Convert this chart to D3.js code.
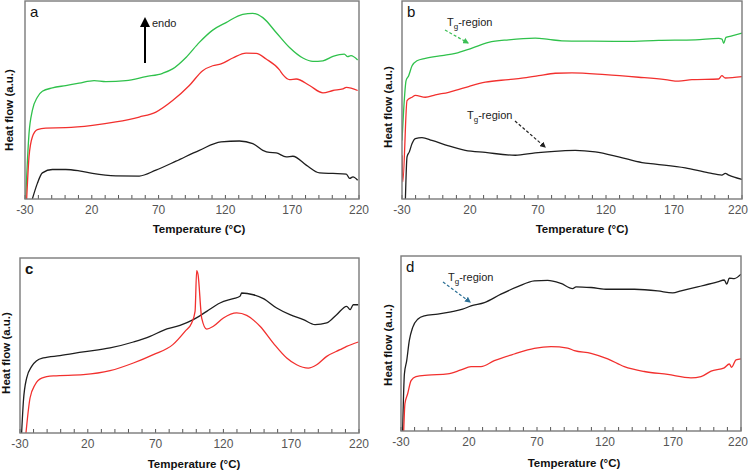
<!DOCTYPE html>
<html>
<head>
<meta charset="utf-8">
<script src="https://cdn.jsdelivr.net/npm/d3@7"></script>
<style>
  body { margin: 0; background: #fff; }
  svg text { font-family: "Liberation Sans", Arial, sans-serif; }
  .tick-label { font-size: 12px; fill: #555; }
  .axis-title { font-size: 11.5px; font-weight: bold; fill: #111; }
  .panel-letter { font-size: 15px; fill: #111; }
  .note { font-size: 11px; fill: #222; }
  .frame { fill: none; stroke: #7a7a7a; stroke-width: 1.4; }
  .curve { fill: none; stroke-width: 1.3; stroke-linejoin: round; }
</style>
</head>
<body>
<svg id="chart" width="750" height="471"></svg>
<script>
// x ticks (temperature, °C)
const majorTicks = [-30, 20, 70, 120, 170, 220];
const minorTicks = d3.range(-30, 221, 10);

// panel a: [T, heat flow a.u.]
const aGreen = [[-29.5,0],[-27,33],[-24.5,44.7],[-20.75,51.4],[-17,54.4],[-9.5,56.1],[0.5,57.3],[10.5,58.5],[21.75,59.8],[30.5,59.3],[45.5,59.8],[60.5,61.8],[73,63.5],[80.5,65.7],[90.5,71.5],[100.5,79.1],[110.5,85.3],[120.5,89.1],[133,93.3],[140.5,93.8],[148,91.6],[158,84.1],[168,76.5],[178,71.2],[185.5,69.5],[193,69.8],[200.5,72],[209,73.2],[211.5,71.9],[214,72.4],[219,70.2]];
const aRed = [[-28.75,0],[-27,21.3],[-24.5,31.3],[-20.75,35],[-14.5,35.8],[0.5,36],[20.5,37.2],[38,38.9],[55.5,41.4],[68,43.9],[80.5,49.7],[93,57.3],[103,64.8],[110.5,67.3],[116.75,68.2],[125.5,71.2],[135.5,73.7],[143,73.5],[150.5,70.7],[160.5,65.2],[163,62.8],[168,60.3],[173,60.6],[183,57.3],[193,53.6],[200.5,54.8],[208,55.6],[210.5,56.4],[219,54.8]];
const aBlack = [[-24.5,0],[-20.75,7.9],[-17,13.2],[-9.5,14.9],[0.5,14.9],[10.5,14.2],[20.5,12.9],[38,11.7],[55.5,11.6],[68,14.6],[83,19.1],[100.5,24.6],[116.75,28.8],[130.5,29.3],[140.5,28],[148,24.6],[153,23.5],[158,23.3],[165.5,21.3],[170.5,21.6],[180.5,17.1],[190.5,13.2],[200.5,12.9],[210.5,12.6],[213,10.4],[215.5,11.2],[219,9.5]];

// panel b
const bGreen = [[-30,29.6],[-28.8,44.7],[-27,59.8],[-25.1,62.3],[-22.6,67.3],[-19,69.8],[-12.8,71],[-0.6,72.4],[9.2,73.5],[21.5,76.2],[33.7,79.1],[48.4,80.4],[68,81.2],[77.8,80.6],[87.6,79.9],[109.7,79.7],[134.2,79.6],[158.7,80.1],[185.7,80.4],[202.8,81.1],[205.3,80.8],[206.5,78.6],[208.2,81.6],[212.6,82.4],[220,83.8]];
const bRed = [[-30,22.1],[-29.4,8.7],[-26.3,49.7],[-22.6,51.4],[-20.2,52.3],[-12.8,51.4],[-5.5,52.6],[4.3,53.9],[9.2,54.8],[19,56.8],[31.3,59],[48.4,60.3],[58.2,61],[70.5,62.3],[82.7,63.5],[95,63.7],[119.5,62.8],[144,61.5],[163.6,60.3],[173.4,59.5],[183.2,60.3],[202.8,60.6],[205.2,62.3],[207.7,61.1],[220,61.8]];
const bBlack = [[-27.5,0],[-26.3,21.3],[-24.6,23.8],[-22.6,28],[-20.2,30.5],[-15.3,31],[-8,29.6],[4.3,26.8],[16.5,24.6],[31.3,23.5],[53.3,22.1],[67.9,23.3],[87.6,24.3],[97.4,24.6],[112.1,23.8],[129.3,21.3],[146.5,18.4],[156.3,17.6],[178.3,15.7],[195.5,13.2],[205.2,12.1],[207.7,12.9],[210.2,12.1],[220,9.9]];

// panel c
const cBlack = [[-28.8,0],[-27.5,18.1],[-25.1,31.4],[-21.4,38.1],[-17.7,41.3],[-12.8,42.9],[-0.5,44.2],[16.7,46.3],[36.4,48.6],[53.6,52],[65.9,55.2],[75.7,58.7],[88,61.5],[97.8,64.8],[107.7,69.5],[117.5,74.3],[127.3,76.8],[132.2,78.1],[133.5,80],[142.1,79],[149.5,76.8],[159.3,71.4],[169.1,67.6],[179,64.8],[187.6,61.9],[196.2,62.9],[203.5,67.6],[210.9,72.4],[213.4,70.5],[215.8,73.3],[219.5,73.3]];
const cRed = [[-25.6,0],[-22.6,20],[-18.9,27.6],[-14,31.4],[-5.4,32.6],[16.7,33.3],[36.4,35.6],[53.6,40],[68.3,44.8],[82.7,50.5],[91.7,58.1],[96.6,62.9],[99.1,69.5],[100.3,92.8],[101.3,90.5],[104,65.7],[107.7,59.4],[112.6,61],[120,65.7],[129.8,68.6],[137.2,67.2],[147,61],[156.8,51.4],[166.7,42.9],[174,39],[182.6,37.1],[188.8,39],[196.2,43.8],[206,47.6],[210.9,49.5],[219.5,52]];

// panel d
const dBlack = [[-28.8,0],[-27.5,32.6],[-25.8,40.2],[-23.9,51.6],[-21.4,59.2],[-17.7,63.9],[-12.8,65.8],[-3,66.8],[6.8,68.1],[15.3,69.6],[21.5,71.5],[31.3,73.4],[43.5,78.2],[55.8,82.5],[68,85.8],[77.8,86.1],[87.6,84.3],[96.2,81.4],[98.7,82.4],[109.7,82],[122,81],[141.6,81],[158.7,80.1],[169.8,78.9],[175.9,80.1],[188.1,82.4],[202.8,85.2],[207.7,86.3],[209.5,83.9],[211.4,87.3],[215.1,87.1],[220,89.6]];
const dRed = [[-28,0],[-27.1,15.6],[-25.1,21.3],[-22.6,28.8],[-19,31.1],[-10.4,31.9],[4.3,32.6],[14.1,34.9],[21.5,36.8],[28.8,36.8],[38.6,40.2],[53.3,44],[68,47.2],[80.3,48.2],[92.5,47.4],[97.5,45.9],[109.7,44.4],[122,41.2],[134.2,36.8],[148.9,34],[166.1,32.3],[183.2,30.4],[190.6,31.1],[198,34.2],[207.7,36.1],[211.4,38.3],[213.1,36.4],[216.3,40.6],[220,41.2]];

const GREEN = '#2fc14b', RED = '#f2302e', BLACK = '#1e1e1e';

const panels = [
  { id: 'a', letter: 'a', box: [25, 1, 359, 199], ylab: [9, 110], xlab: [199, 233],
    series: [[aGreen, GREEN], [aRed, RED], [aBlack, BLACK]] },
  { id: 'b', letter: 'b', box: [402, 1, 742, 199], ylab: [388, 107], xlab: [582, 233],
    series: [[bGreen, GREEN], [bRed, RED], [bBlack, BLACK]] },
  { id: 'c', letter: 'c', bold: true, box: [20, 258, 359, 433], ylab: [6, 353], xlab: [194, 468],
    series: [[cBlack, BLACK], [cRed, RED]] },
  { id: 'd', letter: 'd', box: [401, 256, 741, 431], ylab: [388, 345], xlab: [574, 467],
    series: [[dBlack, BLACK], [dRed, RED]] }
];

const svg = d3.select('#chart');
const defs = svg.append('defs');

// arrow heads
function marker(id, color) {
  defs.append('marker')
    .attr('id', id)
    .attr('viewBox', '0 0 10 10')
    .attr('refX', 8).attr('refY', 5)
    .attr('markerWidth', 5).attr('markerHeight', 5)
    .attr('orient', 'auto')
    .append('path')
    .attr('d', 'M0,0 L10,5 L0,10 z')
    .attr('fill', color);
}
marker('arr-black', '#000');
marker('arr-green', '#3cbf55');
marker('arr-dash-black', '#222');
marker('arr-blue', '#2b6f95');

panels.forEach(p => {
  const [x0, y0, x1, y1] = p.box;
  const x = d3.scaleLinear().domain([-30, 220]).range([x0, x1]);
  const y = d3.scaleLinear().domain([0, 100]).range([y1, y0]);

  defs.append('clipPath').attr('id', 'clip-' + p.id)
    .append('rect').attr('x', x0).attr('y', y0).attr('width', x1 - x0).attr('height', y1 - y0);

  const g = svg.append('g').attr('class', 'panel panel-' + p.id);

  const line = d3.line()
    .x(d => x(d[0]))
    .y(d => y(d[1]))
    .curve(d3.curveMonotoneX);

  g.append('g').attr('clip-path', `url(#clip-${p.id})`)
    .selectAll('path').data(p.series).enter().append('path')
    .attr('class', 'curve')
    .attr('stroke', d => d[1])
    .attr('d', d => line(d[0]));

  // inward ticks
  g.selectAll('line.tick').data(minorTicks).enter().append('line')
    .attr('class', 'tick')
    .attr('x1', d => x(d)).attr('x2', d => x(d))
    .attr('y1', y1).attr('y2', y1 - 4)
    .attr('stroke', '#555').attr('stroke-width', 1);

  g.append('rect').attr('class', 'frame')
    .attr('x', x0).attr('y', y0).attr('width', x1 - x0).attr('height', y1 - y0);

  // keep the last label inside the page
  g.selectAll('text.tick-label').data(majorTicks).enter().append('text')
    .attr('class', 'tick-label')
    .attr('x', d => Math.min(x(d), 738))
    .attr('y', y1 + 15)
    .attr('text-anchor', 'middle')
    .text(d => d);

  g.append('text').attr('class', 'axis-title')
    .attr('x', p.xlab[0]).attr('y', p.xlab[1])
    .attr('text-anchor', 'middle')
    .text('Temperature (°C)');

  g.append('text').attr('class', 'axis-title')
    .attr('transform', `translate(${p.ylab[0] + 4},${p.ylab[1]}) rotate(-90)`)
    .attr('text-anchor', 'middle')
    .text('Heat flow (a.u.)');

  g.append('text').attr('class', 'panel-letter')
    .attr('x', x0 + 5).attr('y', y0 + 16)
    .style('font-weight', p.bold ? 'bold' : null)
    .text(p.letter);
});

// annotations
function tgLabel(x, y) {
  const t = svg.append('text').attr('class', 'note').attr('x', x).attr('y', y);
  t.append('tspan').text('T');
  t.append('tspan').attr('dy', 3).style('font-size', '8px').text('g');
  t.append('tspan').attr('dy', -3).text('-region');
}

// panel a: endo arrow
svg.append('line')
  .attr('x1', 145).attr('y1', 63).attr('x2', 145).attr('y2', 19)
  .attr('stroke', '#000').attr('stroke-width', 2)
  .attr('marker-end', 'url(#arr-black)');
svg.append('text').attr('class', 'note').attr('x', 152).attr('y', 27).text('endo');

// panel b
tgLabel(447, 26);
svg.append('line')
  .attr('x1', 445).attr('y1', 30).attr('x2', 468).attr('y2', 43)
  .attr('stroke', '#3cbf55').attr('stroke-width', 1.2).attr('stroke-dasharray', '3,2')
  .attr('marker-end', 'url(#arr-green)');
tgLabel(467, 119);
svg.append('line')
  .attr('x1', 515).attr('y1', 121).attr('x2', 545).attr('y2', 147)
  .attr('stroke', '#222').attr('stroke-width', 1.2).attr('stroke-dasharray', '3,2')
  .attr('marker-end', 'url(#arr-dash-black)');

// panel d
tgLabel(448, 281);
svg.append('line')
  .attr('x1', 443).attr('y1', 282).attr('x2', 470).attr('y2', 302)
  .attr('stroke', '#2b6f95').attr('stroke-width', 1.2).attr('stroke-dasharray', '3,2')
  .attr('marker-end', 'url(#arr-blue)');
</script>
</body>
</html>
